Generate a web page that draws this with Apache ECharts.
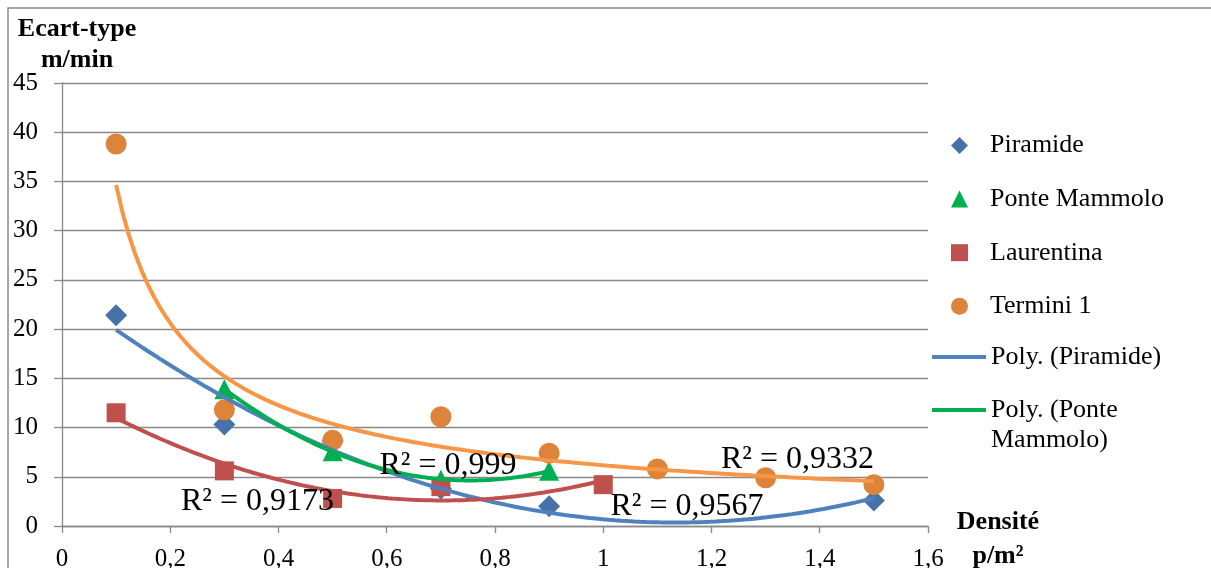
<!DOCTYPE html>
<html>
<head>
<meta charset="utf-8">
<script src="https://cdn.jsdelivr.net/npm/echarts@6/dist/echarts.min.js"></script>
<style>html,body{margin:0;padding:0;background:#fff}#c{width:1211px;height:568px}</style>
</head>
<body>
<div id="c"></div>
<script>
// ---- data ----
const piramideX = [0.1, 0.3, 0.5, 0.7, 0.9, 1.5];
const piramideY = [21.4, 10.3, 8.6, 3.8, 2.0, 2.6];
const ponteX = [0.3, 0.5, 0.7, 0.9];
const ponteY = [13.9, 7.6, 4.7, 5.6];
const laurentinaX = [0.1, 0.3, 0.5, 0.7, 1.0];
const laurentinaY = [11.5, 5.6, 2.8, 4.0, 4.2];
const terminiX = [0.1, 0.3, 0.5, 0.7, 0.9, 1.1, 1.3, 1.5];
const terminiY = [38.8, 11.8, 8.7, 11.1, 7.4, 5.8, 4.9, 4.2];
const seriesNames = ['Piramide', 'Ponte Mammolo', 'Laurentina', 'Termini 1',
  'Poly. (Piramide)', 'Poly. (Ponte\nMammolo)', 'Poly. (Laurentina)', 'Puissance (Termini 1)'];
const r2Labels = ['R² = 0,9173', 'R² = 0,999', 'R² = 0,9567', 'R² = 0,9332'];
const yTitle = ['Ecart-type', 'm/min'];
const xTitle = ['Densité', 'p/m²'];

// ---- least squares helpers (trendlines as Excel computes them) ----
function solve3(A, b) {
  const M = A.map((r, i) => r.concat([b[i]]));
  for (let i = 0; i < 3; i++) {
    let p = i;
    for (let k = i + 1; k < 3; k++) if (Math.abs(M[k][i]) > Math.abs(M[p][i])) p = k;
    [M[i], M[p]] = [M[p], M[i]];
    for (let k = i + 1; k < 3; k++) {
      const f = M[k][i] / M[i][i];
      for (let j = i; j < 4; j++) M[k][j] -= f * M[i][j];
    }
  }
  const x = [0, 0, 0];
  for (let i = 2; i >= 0; i--) {
    let s = M[i][3];
    for (let j = i + 1; j < 3; j++) s -= M[i][j] * x[j];
    x[i] = s / M[i][i];
  }
  return x;
}
function polyFit(xs, ys) {
  const S = [0, 0, 0, 0, 0], T = [0, 0, 0];
  xs.forEach((x, i) => {
    for (let k = 0; k < 5; k++) S[k] += Math.pow(x, k);
    for (let k = 0; k < 3; k++) T[k] += Math.pow(x, k) * ys[i];
  });
  const c = solve3([[S[0], S[1], S[2]], [S[1], S[2], S[3]], [S[2], S[3], S[4]]], T);
  return x => c[0] + c[1] * x + c[2] * x * x;
}
function powerFit(xs, ys) {
  const lx = xs.map(Math.log), ly = ys.map(Math.log), n = xs.length;
  const mx = lx.reduce((a, b) => a + b) / n, my = ly.reduce((a, b) => a + b) / n;
  let sxy = 0, sxx = 0;
  lx.forEach((v, i) => { sxy += (v - mx) * (ly[i] - my); sxx += (v - mx) * (v - mx); });
  const b = sxy / sxx, a = Math.exp(my - b * mx);
  return x => a * Math.pow(x, b);
}
function curve(f, xs) {
  const lo = Math.min(...xs), hi = Math.max(...xs), out = [];
  for (let i = 0; i <= 120; i++) { const x = lo + (hi - lo) * i / 120; out.push([x, f(x)]); }
  return out;
}
const zip = (xs, ys) => xs.map((x, i) => [x, ys[i]]);

const FONT = '"Liberation Serif", "Times New Roman", serif';
const GRAY = '#898989';
const C = {
  pir: '#4672A9', pirT: '#4F81BD',
  pon: '#00B050',
  lau: '#C0504D',
  ter: '#DD843A', terT: '#F79646'
};
// line icon sitting at the top of a taller box, so it lines up with the first text line
const TOP_LINE_ICON = 'path://M0 0H54V4H0Z M53.99 33.99H54V34H53.99Z';

const chart = echarts.init(document.getElementById('c'), null, { renderer: 'canvas' });
const scatter = (name, data, symbol, size, color) => ({
  name, type: 'scatter', data, symbol, symbolSize: size,
  itemStyle: { color, opacity: 1 }, z: 2, animation: false
});
const trend = (name, data, color) => ({
  name, type: 'line', data, symbol: 'none', showSymbol: false, smooth: false,
  lineStyle: { color, width: 4 }, itemStyle: { color }, z: 3, animation: false, silent: true
});
const legendText = { fontFamily: FONT, fontSize: 26, color: '#000', lineHeight: 30 };

chart.setOption({
  animation: false,
  backgroundColor: '#fff',
  grid: { left: 62, right: 283, top: 83, bottom: 42, containLabel: false, outerBoundsMode: 'none' },
  xAxis: {
    type: 'value', min: 0, max: 1.6, interval: 0.2,
    axisLine: { show: true, lineStyle: { color: GRAY, width: 1.3 } },
    axisTick: { show: true, length: 7, lineStyle: { color: GRAY, width: 1.3 } },
    splitLine: { show: false },
    axisLabel: {
      margin: 21, color: '#000', fontFamily: FONT, fontSize: 25,
      formatter: v => String(Math.round(v * 10) / 10).replace('.', ',')
    }
  },
  yAxis: {
    type: 'value', min: 0, max: 45, interval: 5,
    axisLine: { show: true, lineStyle: { color: GRAY, width: 1.3 } },
    axisTick: { show: true, length: 8, lineStyle: { color: GRAY, width: 1.3 } },
    splitLine: { show: true, lineStyle: { color: GRAY, width: 1.3 } },
    axisLabel: { margin: 24, color: '#000', fontFamily: FONT, fontSize: 25 }
  },
  legend: [
    {
      orient: 'vertical', left: 951, top: 130.5, padding: 0,
      itemWidth: 17, itemHeight: 17, itemGap: 23.6,
      data: [
        { name: seriesNames[0], icon: 'diamond' },
        { name: seriesNames[1], icon: 'triangle' },
        { name: seriesNames[2], icon: 'rect' },
        { name: seriesNames[3], icon: 'circle' }
      ],
      textStyle: Object.assign({ padding: [0, 0, 0, 17] }, legendText),
      selectedMode: false
    },
    {
      orient: 'vertical', left: 932, top: 342, padding: 0,
      itemWidth: 54, itemHeight: 4,
      data: [{ name: seriesNames[4], icon: 'rect' }],
      textStyle: legendText, selectedMode: false
    },
    {
      orient: 'vertical', left: 932, top: 395, padding: 0,
      itemWidth: 54, itemHeight: 34,
      data: [{ name: seriesNames[5], icon: TOP_LINE_ICON }],
      textStyle: legendText, selectedMode: false
    }
  ],
  series: [
    scatter(seriesNames[0], zip(piramideX, piramideY), 'diamond', 22, C.pir),
    scatter(seriesNames[1], zip(ponteX, ponteY), 'triangle', 20, C.pon),
    scatter(seriesNames[2], zip(laurentinaX, laurentinaY), 'rect', 19, C.lau),
    scatter(seriesNames[3], zip(terminiX, terminiY), 'circle', 21, C.ter),
    trend(seriesNames[4], curve(polyFit(piramideX, piramideY), piramideX), C.pirT),
    trend(seriesNames[5], curve(polyFit(ponteX, ponteY), ponteX), C.pon),
    trend(seriesNames[6], curve(polyFit(laurentinaX, laurentinaY), laurentinaX), C.lau),
    trend(seriesNames[7], curve(powerFit(terminiX, terminiY), terminiX), C.terT)
  ],
  graphic: [
    { type: 'rect', silent: true, z: -1, shape: { x: 8, y: 8, width: 1300, height: 700 },
      style: { fill: 'none', stroke: GRAY, lineWidth: 1.5 } },
    { type: 'text', x: 77, y: 29, style: { text: yTitle[0], font: 'bold 26px ' + FONT, fill: '#000', align: 'center', verticalAlign: 'middle' } },
    { type: 'text', x: 77, y: 60, style: { text: yTitle[1], font: 'bold 26px ' + FONT, fill: '#000', align: 'center', verticalAlign: 'middle' } },
    { type: 'text', x: 998, y: 522, style: { text: xTitle[0], font: 'bold 26px ' + FONT, fill: '#000', align: 'center', verticalAlign: 'middle' } },
    { type: 'text', x: 998, y: 556, style: { text: xTitle[1], font: 'bold 26px ' + FONT, fill: '#000', align: 'center', verticalAlign: 'middle' } },
    { type: 'text', z: 10, x: 257.5, y: 502, style: { text: r2Labels[0], font: '32px ' + FONT, fill: '#000', align: 'center', verticalAlign: 'middle' } },
    { type: 'text', z: 10, x: 448, y: 466, style: { text: r2Labels[1], font: '32px ' + FONT, fill: '#000', align: 'center', verticalAlign: 'middle' } },
    { type: 'text', z: 10, x: 687, y: 507, style: { text: r2Labels[2], font: '32px ' + FONT, fill: '#000', align: 'center', verticalAlign: 'middle' } },
    { type: 'text', z: 10, x: 797.5, y: 460, style: { text: r2Labels[3], font: '32px ' + FONT, fill: '#000', align: 'center', verticalAlign: 'middle' } }
  ]
});
</script>
</body>
</html>
